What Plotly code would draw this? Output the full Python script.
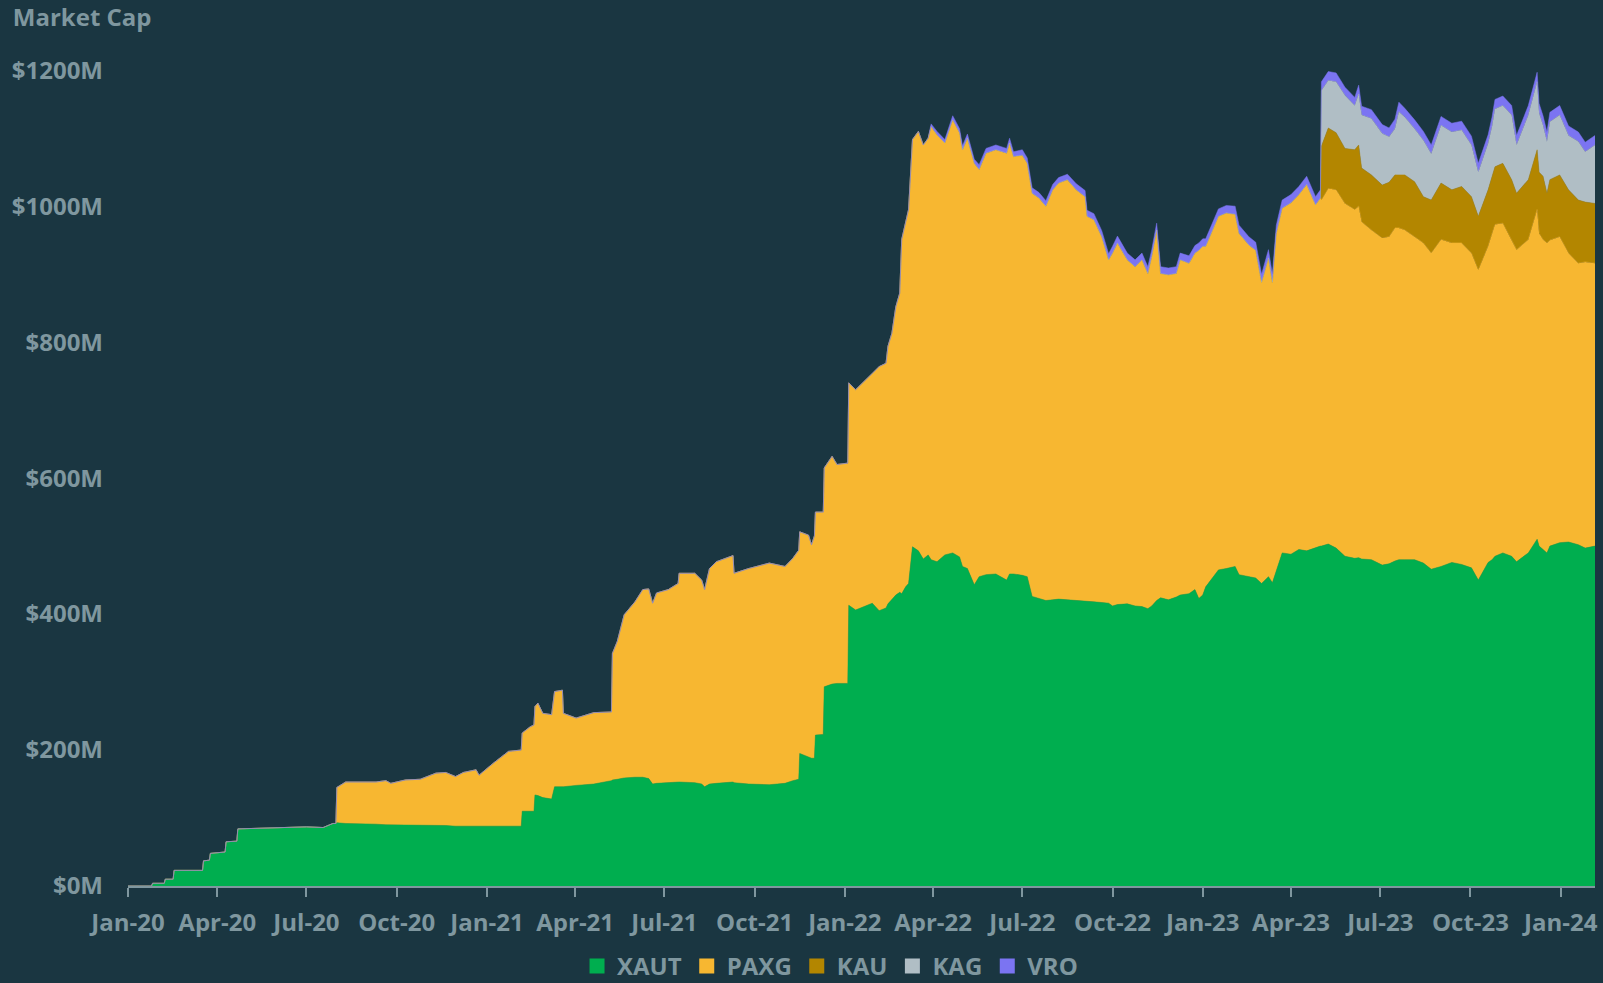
import plotly.graph_objects as go

# --- dados (valores em milhões de USD) ---
dates = [
    "2020-01-01", "2020-01-25", "2020-01-26", "2020-02-07", "2020-02-08", "2020-02-16", "2020-02-17",
    "2020-03-17", "2020-03-18", "2020-03-24", "2020-03-25", "2020-04-09", "2020-04-10", "2020-04-21",
    "2020-04-22", "2020-05-15", "2020-06-10", "2020-07-01", "2020-07-18", "2020-07-28", "2020-07-31",
    # PAXG aparece
    "2020-08-01", "2020-08-10", "2020-08-25", "2020-09-10", "2020-09-20", "2020-09-25", "2020-10-10",
    "2020-10-25", "2020-11-10", "2020-11-20", "2020-11-30", "2020-12-08", "2020-12-21", "2020-12-24",
    "2021-01-07", "2021-01-12", "2021-01-23", "2021-02-05", "2021-02-06", "2021-02-14", "2021-02-18",
    "2021-02-19", "2021-02-22", "2021-02-27", "2021-03-08", "2021-03-11", "2021-03-19", "2021-03-20",
    "2021-04-02", "2021-04-20", "2021-05-08", "2021-05-09", "2021-05-14", "2021-05-21", "2021-06-01",
    "2021-06-09", "2021-06-15", "2021-06-19", "2021-06-23", "2021-07-05", "2021-07-15", "2021-07-16",
    "2021-08-01", "2021-08-08", "2021-08-11", "2021-08-16", "2021-08-23", "2021-09-09", "2021-09-10",
    "2021-09-25", "2021-10-16", "2021-11-01", "2021-11-09", "2021-11-15", "2021-11-16", "2021-11-25",
    "2021-11-28", "2021-12-01", "2021-12-02", "2021-12-10", "2021-12-11", "2021-12-19", "2021-12-24",
    "2022-01-04", "2022-01-05", "2022-01-12", "2022-01-20", "2022-01-29", "2022-02-05", "2022-02-12",
    "2022-02-14", "2022-02-18", "2022-02-22", "2022-02-26", "2022-02-28", "2022-03-04", "2022-03-07",
    "2022-03-11", "2022-03-17", "2022-03-22", "2022-03-27",
    # VRO aparece
    "2022-03-30", "2022-04-05", "2022-04-13", "2022-04-21", "2022-04-28", "2022-05-01", "2022-05-06",
    "2022-05-13", "2022-05-18", "2022-05-25", "2022-06-04", "2022-06-15", "2022-06-18", "2022-06-22",
    "2022-07-01", "2022-07-06", "2022-07-11", "2022-07-18", "2022-07-25", "2022-08-01", "2022-08-07",
    "2022-08-16", "2022-08-25", "2022-09-03", "2022-09-05", "2022-09-12", "2022-09-20", "2022-09-27",
    "2022-10-01", "2022-10-06", "2022-10-16", "2022-10-24", "2022-10-31", "2022-11-06", "2022-11-10",
    "2022-11-15", "2022-11-19", "2022-11-27", "2022-12-05", "2022-12-09", "2022-12-18", "2022-12-24",
    "2022-12-28", "2023-01-01", "2023-01-04", "2023-01-08", "2023-01-17", "2023-01-25", "2023-02-03",
    "2023-02-07", "2023-02-17", "2023-02-24", "2023-03-02", "2023-03-09", "2023-03-13", "2023-03-17",
    "2023-03-23", "2023-04-01", "2023-04-09", "2023-04-17", "2023-04-26", "2023-05-01",
    # KAU e KAG aparecem
    "2023-05-02", "2023-05-09", "2023-05-17", "2023-05-26", "2023-06-05", "2023-06-09", "2023-06-12",
    "2023-06-22", "2023-07-03", "2023-07-10", "2023-07-16", "2023-07-20", "2023-07-26", "2023-08-05",
    "2023-08-14", "2023-08-22", "2023-09-01", "2023-09-12", "2023-09-22", "2023-10-02", "2023-10-09",
    "2023-10-19", "2023-10-23", "2023-10-26", "2023-11-03", "2023-11-12", "2023-11-17", "2023-11-29",
    "2023-12-08", "2023-12-10", "2023-12-14", "2023-12-18", "2023-12-21", "2023-12-31", "2024-01-09",
    "2024-01-19", "2024-01-26", "2024-02-05",
]

xaut = [
    0, 0, 4, 4, 10, 10, 23, 23, 37, 38, 48, 50, 65, 66, 84, 85, 86, 87, 86, 92, 92,
    93, 92, 92, 91, 90, 90, 90, 90, 89, 89, 88, 88, 89, 89,
    89, 88, 88, 88, 110, 110, 110, 134, 133, 130, 128, 146, 146, 146,
    148, 150, 155, 156, 157, 159, 160, 160, 158, 150, 151, 152, 153, 153,
    152, 150, 146, 150, 151, 153, 152, 150, 149, 151, 155, 157, 195, 190,
    188, 188, 222, 223, 293, 297, 298,
    298, 413, 406, 411, 416, 405, 409, 415, 421, 428, 432, 430, 440, 445,
    499, 493, 481, 487,
    480, 477, 487, 490, 484, 470, 467, 443, 455, 458, 459, 450, 459, 459,
    457, 455, 426, 423, 420, 421, 422, 421, 420, 420, 419, 418, 417, 416,
    412, 414, 415, 412, 411, 408, 412, 420, 424, 421, 425, 428, 430, 436,
    423, 428, 440, 448, 465, 467, 470, 458, 455, 453, 445, 455, 446, 465,
    490, 488, 495, 493, 498, 500,
    500, 503, 497, 485, 482, 483, 481, 480, 472, 474, 478, 480, 480, 480,
    475, 466, 470, 476, 473, 468, 450, 476, 480, 485, 490, 485, 477, 490,
    510, 500, 495, 490, 500, 505, 506, 502, 497, 500,
]

paxg = [0] * 21 + [
    52, 61, 61, 62, 65, 61, 66, 67, 77, 78, 73, 79, 82, 74,
    91, 98, 110, 112, 115, 124, 127, 130, 136, 124, 124, 140, 142, 108,
    99, 105, 101, 186, 203, 240, 258, 276, 279, 266, 280, 284, 292, 307,
    308, 300, 290, 317, 326, 333, 308, 317, 326, 319, 327, 337, 326, 326,
    314, 327, 328, 327, 322, 335, 322,
    324, 327, 324, 331, 338, 359, 360, 379, 392, 424, 440, 521, 535, 550,
    599, 617, 609, 613,
    637, 628, 606, 637, 624, 613, 633, 620, 599, 620, 624, 628, 634, 614,
    618, 608, 593, 589, 580, 603, 612, 618, 604, 594, 566, 562, 538, 505,
    519, 532, 506, 499, 510, 493, 514, 545, 477, 478, 476, 493, 486, 495,
    512, 513, 501, 507, 520, 523, 518, 502, 488, 482, 443, 469, 442, 495,
    507, 517, 522, 539, 504, 512,
    509, 523, 527, 519, 513, 517, 496, 485, 481, 481, 490, 488, 485, 475,
    471, 465, 481, 470, 473, 463, 456, 465, 480, 488, 485, 466, 459, 461,
    485, 460, 456, 456, 450, 450, 425, 414, 421, 416,
]

kau = [0] * 164 + [
    79, 89, 84, 81, 88, 90, 79, 81, 78, 80, 78, 78, 81, 81,
    68, 78, 83, 78, 83, 83, 79, 83, 85, 85, 88, 88, 83, 88,
    88, 90, 93, 73, 89, 91, 93, 93, 88, 88,
]

kag = [0] * 164 + [
    82, 70, 75, 78, 65, 75, 78, 83, 76, 67, 68, 93, 85, 78,
    83, 68, 85, 85, 83, 76, 65, 68, 72, 85, 85, 95, 71, 95,
    100, 87, 75, 76, 85, 88, 80, 86, 74, 86,
]

vro = [0] * 102 + [
    4, 5, 5, 6, 6, 6, 6, 6, 7, 7, 7, 7, 7, 7,
    8, 8, 8, 8, 8, 8, 8, 8, 9, 9, 9, 9, 9, 9,
    10, 10, 10, 10, 10, 10, 10, 10, 10, 10, 10, 10, 11, 11,
    11, 11, 11, 11, 11, 11, 12, 12, 12, 12, 12, 12, 12, 12,
    12, 12, 12, 12, 12, 12,
    13, 13, 13, 12, 12, 13, 13, 13, 13, 13, 14, 14, 13, 13,
    13, 13, 13, 13, 13, 13, 13, 13, 14, 14, 14, 14, 14, 14,
    14, 14, 14, 14, 14, 14, 14, 14, 14, 14,
]

series_names = ["XAUT", "PAXG", "KAU", "KAG", "VRO"]
series_colors = ["#00ae4f", "#f7b731", "#b38600", "#b0bec5", "#7b74f2"]

y_ticks = [0, 200, 400, 600, 800, 1000, 1200]
y_labels = ["$0M", "$200M", "$400M", "$600M", "$800M", "$1000M", "$1200M"]

fundo = "#1a3641"
cinza = "#7f979f"
fonte = "Open Sans"
tam = 24

fig = go.Figure()

for nome, valores, cor in zip(series_names, [xaut, paxg, kau, kag, vro], series_colors):
    fig.add_trace(go.Scatter(
        x=dates, y=valores, name=nome, mode="lines",
        stackgroup="mc", line=dict(width=0.5, color=cor), fillcolor=cor,
        showlegend=False, hovertemplate=nome + ": $%{y}M<extra></extra>"
    ))

# legenda com quadrados
for nome, cor in zip(series_names, series_colors):
    fig.add_trace(go.Scatter(
        x=[None], y=[None], mode="markers", name=nome,
        marker=dict(symbol="square", size=15, color=cor)
    ))

fig.update_layout(
    width=1603, height=983,
    paper_bgcolor=fundo, plot_bgcolor=fundo,
    margin=dict(l=128, r=5, t=60, b=97),
    title=dict(
        text="Market Cap", xref="container", yref="container",
        x=0.008, xanchor="left", y=0.982, yanchor="middle",
        font=dict(family=fonte, size=tam, color=cinza, weight="bold")
    ),
    showlegend=True,
    legend=dict(
        orientation="h", xref="container", yref="container",
        x=0.5178, xanchor="center", y=0.017, yanchor="middle",
        traceorder="normal",
        font=dict(family=fonte, size=tam, color=cinza, weight="bold"),
        itemsizing="trace", bgcolor="rgba(0,0,0,0)"
    ),
    xaxis=dict(
        type="date", range=["2020-01-01", "2024-02-05"],
        tickformat="%b-%y", dtick="M3", tick0="2020-01-01",
        showgrid=False, zeroline=False,
        showline=True, linecolor=cinza, linewidth=2,
        ticks="outside", ticklen=9, tickwidth=2, tickcolor=cinza,
        ticklabelstandoff=5,
        tickfont=dict(family=fonte, size=tam, color=cinza, weight="bold")
    ),
    yaxis=dict(
        range=[0, 1215], tickvals=y_ticks, ticktext=y_labels,
        showgrid=False, zeroline=False, showline=False,
        ticklabelstandoff=24,
        tickfont=dict(family=fonte, size=tam, color=cinza, weight="bold")
    ),
    hovermode="x unified"
)

fig.write_html(
    "out.html",
    config={"displayModeBar": False},
    post_script="document.body.style.margin='0';"
)
